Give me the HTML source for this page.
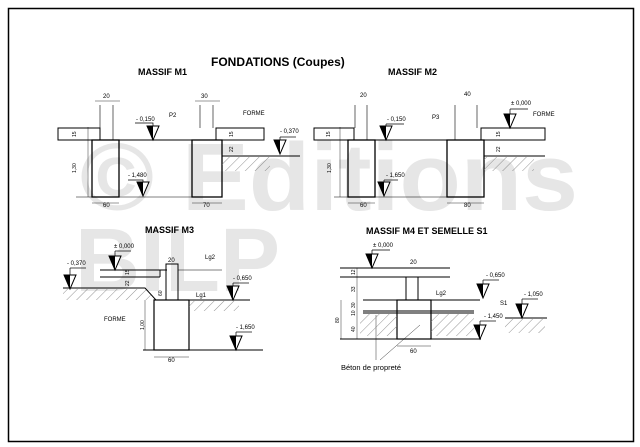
<!DOCTYPE html>
<html><head><meta charset="utf-8"><style>
html,body{margin:0;padding:0;background:#fff}
svg{display:block}
text{font-family:"Liberation Sans",sans-serif;fill:#000}
text.wm{fill:#e6e6e6;font-weight:bold}
.b{font-weight:bold}
</style></head><body>
<svg width="640" height="447" viewBox="0 0 640 447" xmlns="http://www.w3.org/2000/svg">
<defs>
<pattern id="h" width="7" height="7" patternUnits="userSpaceOnUse" patternTransform="rotate(45)">
<line x1="0" y1="0" x2="0" y2="7" stroke="#777" stroke-width="0.8"/>
</pattern>
<g id="tri"><path d="M-6,-14 L6,-14 L0,0 Z" fill="#fff" stroke="#000" stroke-width="1"/><path d="M-6,-14 L0,-14 L0,0 Z" fill="#000"/></g>
</defs>
<rect x="0" y="0" width="640" height="447" fill="#fff"/>
<!-- watermark -->
<text class="wm" x="80" y="210" font-size="96" textLength="498" lengthAdjust="spacingAndGlyphs">© Editions</text>
<text class="wm" x="75" y="291" font-size="90" textLength="205" lengthAdjust="spacingAndGlyphs">BILP</text>
<rect x="8.5" y="8.5" width="625" height="433" fill="none" stroke="#000" stroke-width="1.5"/>
<text x="211" y="66" font-size="12" class="b">FONDATIONS (Coupes)</text>
<text x="138" y="75" font-size="9" class="b">MASSIF M1</text>
<text x="388" y="75" font-size="9" class="b">MASSIF M2</text>
<text x="145" y="233" font-size="9" class="b">MASSIF M3</text>
<text x="366" y="234" font-size="9" class="b">MASSIF M4 ET SEMELLE S1</text>

<g stroke="#000" fill="none" stroke-width="1">
<!-- M1 -->
<rect x="58" y="128" width="42" height="12"/>
<rect x="92" y="140" width="27" height="57" stroke-width="1.3"/>
<rect x="192" y="140" width="30" height="57" stroke-width="1.3"/>
<line x1="119" y1="140" x2="192" y2="140"/>
<line x1="76" y1="197" x2="222" y2="197" stroke-width="0.5"/>
<rect x="216" y="128" width="48" height="12"/>
<line x1="222" y1="156" x2="300" y2="156"/>
<line x1="100" y1="105" x2="100" y2="128" stroke-width="0.6"/><line x1="113" y1="105" x2="113" y2="140" stroke-width="0.6"/>
<line x1="200" y1="105" x2="200" y2="128" stroke-width="0.6"/><line x1="213" y1="105" x2="213" y2="128" stroke-width="0.6"/>
<line x1="88" y1="127" x2="88" y2="197" stroke-width="0.4"/>
<line x1="92" y1="203" x2="119" y2="203" stroke-width="0.4"/>
<line x1="192" y1="203" x2="222" y2="203" stroke-width="0.4"/>
<line x1="95" y1="101" x2="120" y2="101" stroke-width="0.4"/>
<line x1="195" y1="101" x2="220" y2="101" stroke-width="0.4"/>
<!-- M2 -->
<rect x="314" y="128" width="40" height="12"/>
<rect x="348" y="140" width="27" height="57" stroke-width="1.3"/>
<rect x="447" y="140" width="37" height="57" stroke-width="1.3"/>
<line x1="375" y1="140" x2="447" y2="140"/>
<line x1="334" y1="197" x2="447" y2="197" stroke-width="0.5"/>
<rect x="481" y="128" width="64" height="12"/>
<line x1="484" y1="156" x2="545" y2="156"/>
<line x1="355" y1="105" x2="355" y2="128" stroke-width="0.6"/><line x1="367" y1="105" x2="367" y2="140" stroke-width="0.6"/>
<line x1="455" y1="105" x2="455" y2="140" stroke-width="0.6"/><line x1="477" y1="105" x2="477" y2="128" stroke-width="0.6"/>
<line x1="340" y1="127" x2="340" y2="197" stroke-width="0.4"/>
<line x1="348" y1="203" x2="375" y2="203" stroke-width="0.4"/>
<line x1="447" y1="203" x2="484" y2="203" stroke-width="0.4"/>
<!-- M3 -->
<line x1="100" y1="270" x2="167" y2="270"/>
<line x1="100" y1="277" x2="160" y2="277"/>
<line x1="160" y1="270" x2="160" y2="277"/>
<rect x="166" y="264" width="12" height="36"/>
<line x1="178" y1="270" x2="222" y2="270" stroke-width="0.5"/>
<path d="M63 288 L145 288 L156 300 L154 300"/>
<rect x="154" y="300" width="35" height="50" stroke-width="1.2"/>
<line x1="189" y1="300" x2="250" y2="300"/>
<line x1="143" y1="350" x2="263" y2="350"/>
<line x1="145" y1="300" x2="145" y2="350" stroke-width="0.4"/>
<line x1="154" y1="357" x2="189" y2="357" stroke-width="0.4"/>
<!-- M4 -->
<line x1="340" y1="268" x2="450" y2="268"/>
<line x1="340" y1="277" x2="450" y2="277"/>
<rect x="406" y="277" width="12" height="23"/>
<line x1="363" y1="300" x2="480" y2="300"/>
<line x1="363" y1="311" x2="474" y2="311"/>
<line x1="363" y1="313" x2="474" y2="313"/>
<rect x="397" y="300" width="34" height="39" stroke-width="1.2"/>
<line x1="340" y1="339" x2="481" y2="339"/>
<line x1="505" y1="318" x2="547" y2="318"/>
<line x1="341" y1="300" x2="341" y2="339" stroke-width="0.4"/>
<line x1="357" y1="268" x2="357" y2="339" stroke-width="0.4"/>
<line x1="397" y1="346" x2="431" y2="346" stroke-width="0.4"/>
<line x1="376" y1="360" x2="376" y2="315" stroke-width="0.4"/>
<line x1="380" y1="360" x2="420" y2="325" stroke-width="0.4"/>
</g>
<!-- hatching -->
<g fill="url(#h)">
<rect x="222" y="157" width="48" height="14"/>
<rect x="484" y="157" width="50" height="14"/>
<path d="M63 289 L145 289 L155 300 L120 300 L63 300Z"/>
<rect x="189" y="301" width="50" height="10"/>
<rect x="360" y="314" width="37" height="22"/>
<rect x="431" y="314" width="43" height="22"/>
<rect x="505" y="319" width="40" height="14"/>
</g>
<!-- level markers -->
<g stroke="#000" stroke-width="0.7" fill="none">
<path d="M135 123 H153 V126"/><path d="M128 180 H143 V182"/><path d="M280 137 H296"/><path d="M280 137 V140"/>
<path d="M386 124 H404"/><path d="M386 124 V126"/><path d="M384 180 H398"/><path d="M384 180 V182"/><path d="M510 109 H528"/><path d="M510 109 V114"/>
<path d="M115 251 H131"/><path d="M115 251 V256"/><path d="M70 268 H86"/><path d="M70 268 V275"/>
<path d="M233 283 H249"/><path d="M233 283 V286"/><path d="M236 332 H252"/><path d="M236 332 V336"/>
<path d="M372 250 H390"/><path d="M372 250 V254"/><path d="M483 280 H499"/><path d="M483 280 V284"/>
<path d="M480 321 H496"/><path d="M480 321 V325"/><path d="M522 299 H538"/><path d="M522 299 V304"/>
</g>
<use href="#tri" x="153" y="140"/><use href="#tri" x="143" y="196"/><use href="#tri" x="280" y="154"/>
<use href="#tri" x="386" y="140"/><use href="#tri" x="384" y="196"/><use href="#tri" x="510" y="128"/>
<use href="#tri" x="115" y="270"/><use href="#tri" x="70" y="289"/><use href="#tri" x="233" y="300"/><use href="#tri" x="236" y="350"/>
<use href="#tri" x="372" y="268"/><use href="#tri" x="483" y="298"/><use href="#tri" x="480" y="339"/><use href="#tri" x="522" y="318"/>
<!-- labels -->
<g font-size="6">
<text x="136" y="121" font-size="6">- 0,150</text><text x="169" y="117" font-size="6">P2</text>
<text x="128" y="177" font-size="6">- 1,480</text><text x="243" y="115" font-size="6">FORME</text>
<text x="280" y="133" font-size="6">- 0,370</text>
<text x="103" y="98" font-size="6">20</text><text x="201" y="98" font-size="6">30</text>
<text x="103" y="207" font-size="6">60</text><text x="203" y="207" font-size="6">70</text>
<text x="387" y="121" font-size="6">- 0,150</text><text x="432" y="119" font-size="6">P3</text>
<text x="386" y="177" font-size="6">- 1,650</text><text x="511" y="105" font-size="6">± 0,000</text>
<text x="533" y="116" font-size="6">FORME</text>
<text x="360" y="97" font-size="6">20</text><text x="464" y="96" font-size="6">40</text>
<text x="360" y="207" font-size="6">60</text><text x="464" y="207" font-size="6">80</text>
<text x="114" y="248" font-size="6">± 0,000</text><text x="67" y="265" font-size="6">- 0,370</text>
<text x="233" y="280" font-size="6">- 0,650</text><text x="236" y="329" font-size="6">- 1,650</text>
<text x="205" y="259" font-size="6">Lg2</text><text x="196" y="297" font-size="6">Lg1</text>
<text x="168" y="262" font-size="6">20</text><text x="104" y="321" font-size="6">FORME</text>
<text x="168" y="362" font-size="6">60</text>
<text x="373" y="247" font-size="6">± 0,000</text><text x="410" y="264" font-size="6">20</text>
<text x="486" y="277" font-size="6">- 0,650</text><text x="500" y="305" font-size="6">S1</text>
<text x="484" y="318" font-size="6">- 1,450</text><text x="524" y="296" font-size="6">- 1,050</text>
<text x="436" y="295" font-size="6">Lg2</text><text x="410" y="353" font-size="6">60</text>
</g>
<g font-size="5">
<text transform="translate(76,173) rotate(-90)" font-size="5">1,30</text>
<text transform="translate(76,137) rotate(-90)" font-size="5">15</text>
<text transform="translate(233,137) rotate(-90)" font-size="5">15</text>
<text transform="translate(233,152) rotate(-90)" font-size="5">22</text>
<text transform="translate(331,173) rotate(-90)" font-size="5">1,30</text>
<text transform="translate(330,137) rotate(-90)" font-size="5">15</text>
<text transform="translate(500,137) rotate(-90)" font-size="5">15</text>
<text transform="translate(500,152) rotate(-90)" font-size="5">22</text>
<text transform="translate(129,275) rotate(-90)" font-size="5">15</text>
<text transform="translate(129,286) rotate(-90)" font-size="5">22</text>
<text transform="translate(162,296) rotate(-90)" font-size="5">60</text>
<text transform="translate(144,330) rotate(-90)" font-size="5">1,00</text>
<text transform="translate(355,275) rotate(-90)" font-size="5">12</text>
<text transform="translate(355,292) rotate(-90)" font-size="5">33</text>
<text transform="translate(355,308) rotate(-90)" font-size="5">30</text>
<text transform="translate(355,316) rotate(-90)" font-size="5">10</text>
<text transform="translate(355,332) rotate(-90)" font-size="5">40</text>
<text transform="translate(339,323) rotate(-90)" font-size="5">80</text>
</g>
<text x="341" y="370" font-size="7.5">Béton de propreté</text>
</svg>
</body></html>
